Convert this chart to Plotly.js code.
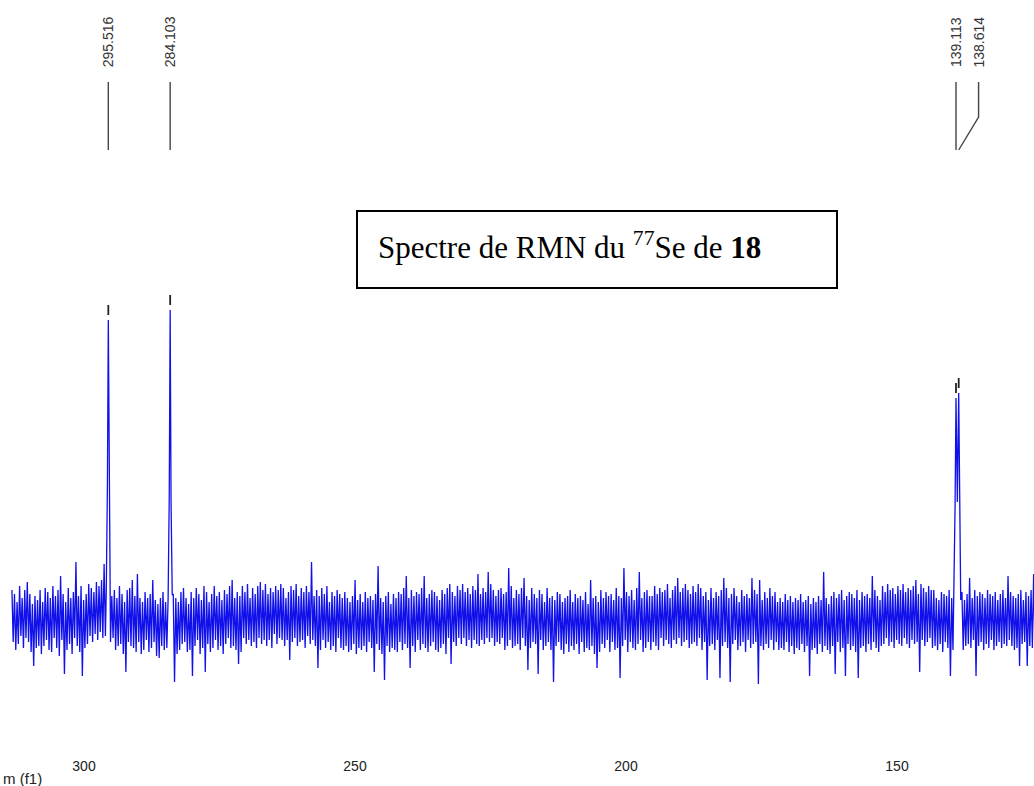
<!DOCTYPE html>
<html><head><meta charset="utf-8">
<script src="https://cdn.plot.ly/plotly-3.0.1.min.js"></script>
<style>html,body{margin:0;padding:0;background:#fff}#chart{width:1034px;height:786px}</style>
</head><body><div id="chart"></div>
<script>
// ---- data ----
const noiseStartPpm = 313.3;
const noiseEndPpm = 124.55;
// baseline intensities, sampled evenly from noiseStartPpm to noiseEndPpm
const noise = [
 30,-22,26,-30,18,-24,34,-16,22,-28,30,-18,38,-22,26,-32,16,-46,24,-28,
 20,-26,30,-34,18,-26,32,-20,28,-30,22,-32,34,-18,24,-28,30,-36,44,-20,
 26,-54,18,-30,32,-24,22,-34,28,-18,58,-26,24,-32,34,-56,20,-28,26,-24,
 36,-16,32,-22,28,-14,38,-20,34,-12,40,-18,56,-16,34,-14,36,-22,24,-18,
 30,-30,22,-26,34,-24,26,-34,18,-52,30,-22,32,-26,40,-28,24,-32,46,-22,
 22,-34,18,-30,28,-20,22,-32,26,-28,40,-22,20,-36,16,-38,22,-26,28,-30,
 18,-28,30,-32,20,-22,26,-62,22,-34,18,-30,28,-24,32,-22,22,-32,16,-30,
 28,-56,22,-26,32,-20,26,-34,20,-28,34,-52,28,-24,18,-32,26,-28,34,-20,
 24,-30,28,-26,20,-34,30,-24,26,-18,34,-28,40,-26,22,-30,28,-44,24,-32,
 34,-18,28,-24,36,-20,22,-26,32,-22,26,-28,34,-18,38,-24,30,-20,36,-26,
 26,-20,32,-28,28,-14,34,-24,30,-18,36,-20,32,-26,22,-20,28,-40,34,-22,
 30,-18,36,-26,24,-22,32,-20,28,-28,34,-16,28,-24,58,-20,24,-26,30,-48,
 24,-30,32,-20,26,-28,34,-22,18,-30,28,-26,24,-32,30,-18,26,-28,22,-30,
 28,-26,22,-32,18,-30,24,-24,40,-34,20,-28,26,-30,18,-26,28,-32,22,-22,
 24,-28,20,-52,26,-24,54,-30,22,-34,18,-60,24,-26,28,-32,16,-28,26,-30,
 22,-32,28,-22,26,-30,32,-24,44,-28,22,-48,30,-26,24,-32,28,-20,26,-30,
 32,-24,44,-28,22,-32,26,-26,30,-22,28,-30,24,-32,20,-28,30,-24,26,-34,
 32,-18,36,-44,28,-22,24,-26,34,-18,30,-24,36,-18,28,-26,32,-20,26,-28,
 34,-20,30,-24,46,-26,26,-20,32,-24,28,-18,48,-22,36,-18,30,-26,24,-22,
 30,-24,32,-18,26,-30,28,-26,52,-20,34,-28,22,-26,30,-24,26,-30,32,-18,
 42,-26,24,-50,20,-28,32,-22,26,-24,22,-54,30,-20,26,-30,18,-26,32,-22,
 22,-30,24,-62,20,-26,28,-22,26,-30,18,-34,22,-24,24,-32,30,-26,18,-30,
 26,-24,22,-34,24,-22,20,-32,28,-28,16,-30,40,-26,22,-34,24,-48,18,-32,
 30,-24,22,-28,28,-20,24,-32,26,-22,20,-30,32,-28,24,-58,22,-26,52,-20,
 28,-32,24,-22,30,-28,20,-30,32,-24,48,-20,22,-32,28,-28,30,-22,24,-30,
 24,-22,34,-26,26,-30,32,-18,28,-26,30,-20,36,-24,22,-28,30,-20,34,-24,
 42,-18,28,-26,32,-22,36,-20,30,-28,26,-24,34,-22,28,-26,36,-18,32,-30,
 24,-22,28,-60,20,-26,32,-24,22,-30,28,-20,24,-58,30,-26,42,-22,32,-28,
 22,-62,26,-24,32,-20,24,-30,18,-26,30,-22,24,-32,26,-20,22,-28,42,-24,
 30,-22,26,-64,40,-26,20,-30,28,-24,22,-28,32,-20,24,-30,28,-22,18,-30,
 22,-28,18,-30,26,-22,20,-32,24,-26,18,-34,22,-28,20,-30,26,-24,18,-32,
 20,-26,24,-56,16,-30,22,-28,18,-34,24,-24,20,-32,48,-26,22,-30,16,-34,
 24,-26,28,-54,22,-22,26,-32,30,-28,20,-56,24,-24,28,-30,26,-26,22,-32,
 30,-58,20,-28,28,-26,24,-32,26,-24,22,-30,44,-22,30,-28,24,-32,20,-26,
 34,-24,28,-18,36,-26,30,-22,32,-28,26,-20,34,-24,30,-26,36,-18,28,-24,
 32,-28,30,-20,34,-24,40,-22,26,-52,36,-20,32,-26,28,-22,34,-18,30,-28,
 30,-26,22,-30,20,-24,28,-32,26,-22,24,-28,30,-56,22,-30,26,-24,28,-26,
 24,-22,28,-30,20,-26,26,-24,42,-28,22,-20,30,-56,24,-26,28,-22,26,-30,
 22,-24,30,-28,26,-20,24,-30,28,-26,20,-22,26,-28,30,-24,22,-26,44,-20,
 28,-26,24,-30,22,-28,26,-46,30,-24,20,-22,28,-46,24,-26,30,-28,46,-22
];
const peakPpm = [295.516, 284.103, 139.113, 138.614];
const peakHeight = [300, 310, 222, 227];
const line1Ppm = [295.90, 295.68, 295.516, 295.36, 295.14];
const line1Int = [26, 135, 300, 120, 22];
const line2Ppm = [284.48, 284.27, 284.103, 283.94, 283.72];
const line2Int = [22, 125, 310, 118, 25];
const line3Ppm = [139.50, 139.28, 139.113, 138.86, 138.614, 138.45, 138.24];
const line3Int = [25, 115, 222, 118, 227, 110, 20];
const tickVals = [300, 250, 200, 150];
const axisTitle = 'm (f1)';
const boxTitle = 'Spectre de RMN du <sup>77</sup>Se de <b>18</b>';

// ---- build spectrum ----
const profiles = [[line1Ppm, line1Int], [line2Ppm, line2Int], [line3Ppm, line3Int]];
const step = (noiseStartPpm - noiseEndPpm) / (noise.length - 1);
const inProfile = x => profiles.some(p => x <= Math.max(...p[0]) && x >= Math.min(...p[0]));
let pts = [];
noise.forEach((v, i) => {
  const x = noiseStartPpm - i * step;
  if (!inProfile(x)) pts.push([x, v]);
});
profiles.forEach(p => p[0].forEach((x, k) => pts.push([x, p[1][k]])));
pts.sort((a, b) => b[0] - a[0]);
const specX = pts.map(p => p[0]);
const specY = pts.map(p => p[1]);

// ---- layout geometry ----
const W = 1034, H = 786, mB = 30;
const plotH = H - mB;
const xRange = [315.5, 124.72];
const pxPerPpm = W / (xRange[0] - xRange[1]);
const py = p => 1 - p / plotH; // pixel row -> paper y

// label positions: spread to a minimum gap
const minGapPpm = 22.6 / pxPerPpm;
const labelPos = [];
peakPpm.forEach((p, i) => {
  let pos = p;
  if (i > 0 && labelPos[i - 1] - pos < minGapPpm) pos = labelPos[i - 1] - minGapPpm;
  labelPos.push(pos);
});

const shapes = [];
const annotations = [];
peakPpm.forEach((p, i) => {
  const lx = labelPos[i];
  shapes.push({type: 'path', xref: 'x', yref: 'paper',
    path: `M ${lx},${py(82)} L ${lx},${py(117)} L ${p},${py(150)}`,
    line: {color: '#444', width: 1.4}});
  shapes.push({type: 'line', xref: 'x', yref: 'y', x0: p, x1: p,
    y0: peakHeight[i] + 5, y1: peakHeight[i] + 15, line: {color: '#222', width: 1.8}});
  annotations.push({xref: 'x', yref: 'paper', x: lx, y: py(42), text: p.toFixed(3),
    textangle: -90, showarrow: false, xanchor: 'center', yanchor: 'middle',
    font: {family: 'Liberation Sans, Arial', size: 14, color: '#333'}});
});
shapes.push({type: 'rect', xref: 'paper', yref: 'paper',
  x0: 357 / W, x1: 837 / W, y0: py(288), y1: py(211), line: {color: '#000', width: 2}, fillcolor: 'rgba(0,0,0,0)'});
annotations.push({xref: 'paper', yref: 'paper', x: 376 / W, y: py(245), text: boxTitle,
  showarrow: false, xanchor: 'left', yanchor: 'middle',
  font: {family: 'Liberation Serif, Times New Roman', size: 31, color: '#000'}});
annotations.push({xref: 'paper', yref: 'paper', x: 1 / W, y: py(778), text: axisTitle,
  showarrow: false, xanchor: 'left', yanchor: 'middle',
  font: {family: 'Liberation Sans, Arial', size: 15, color: '#222'}});

const trace = {x: specX, y: specY, type: 'scatter', mode: 'lines',
  line: {color: '#1010ea', width: 1.3}, hoverinfo: 'skip'};

const layout = {
  width: W, height: H,
  margin: {l: 0, r: 0, t: 0, b: mB, pad: 0},
  paper_bgcolor: '#fff', plot_bgcolor: '#fff',
  showlegend: false,
  xaxis: {range: xRange, autorange: false, tickvals: tickVals, ticktext: tickVals.map(String),
    showgrid: false, zeroline: false, showline: false, ticks: '',
    tickfont: {family: 'Liberation Sans, Arial', size: 14, color: '#222'}},
  yaxis: {range: [-136, 620], autorange: false, visible: false, showgrid: false, zeroline: false},
  shapes: shapes, annotations: annotations
};
Plotly.newPlot('chart', [trace], layout, {staticPlot: true, displayModeBar: false});
</script></body></html>
